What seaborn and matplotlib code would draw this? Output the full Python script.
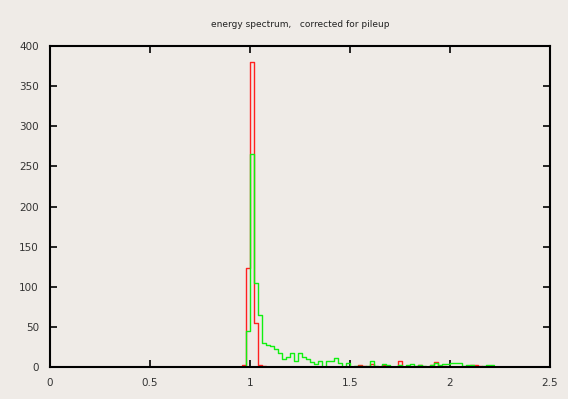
import numpy as np
import pandas as pd
import matplotlib
matplotlib.use('Agg')
import matplotlib.pyplot as plt
import seaborn as sns

# bins of width 0.02 starting at 0.96
bin_start = 0.96
bin_width = 0.02

# counts per bin, before correction (red)
red_counts = [
    3, 123, 380, 55, 3, 1, 0, 0, 0, 0,      # 0.96 - 1.14
    0, 0, 0, 0, 0, 0, 0, 0, 0, 0,           # 1.16 - 1.34
    0, 0, 0, 0, 0, 0, 0, 0, 0, 2,           # 1.36 - 1.54
    1, 0, 4, 0, 0, 3, 0, 0, 0, 7,           # 1.56 - 1.74
    0, 0, 0, 0, 3, 0, 0, 2, 6, 0,           # 1.76 - 1.94
    1, 0, 0, 0, 0, 0, 1, 2, 2, 1,           # 1.96 - 2.14
    0, 0, 0,                                # 2.16 - 2.20
]

# counts per bin, corrected for pileup (green)
green_counts = [
    0, 45, 265, 105, 65, 30, 28, 26, 22, 17,   # 0.96 - 1.14
    10, 12, 17, 8, 17, 13, 10, 6, 4, 7,        # 1.16 - 1.34
    0, 7, 7, 11, 5, 0, 5, 0, 1, 1,             # 1.36 - 1.54
    0, 1, 7, 1, 0, 4, 2, 0, 0, 2,              # 1.56 - 1.74
    0, 3, 4, 1, 3, 1, 0, 3, 5, 3,              # 1.76 - 1.94
    4, 4, 5, 5, 5, 1, 2, 3, 0, 0,              # 1.96 - 2.14
    1, 2, 2,                                   # 2.16 - 2.20
]

nbins = len(green_counts)
bin_end = bin_start + bin_width * nbins
centers = bin_start + bin_width * (np.arange(nbins) + 0.5)
df = pd.DataFrame({'energy': centers, 'raw': red_counts, 'corrected': green_counts})

bg = '#efebe7'
sns.set_theme(style='ticks')
plt.rcParams['font.family'] = ['DejaVu Sans']

fig = plt.figure(figsize=(5.68, 3.99), dpi=100, facecolor=bg)
ax = fig.add_axes([0.088, 0.0802, 0.880, 0.8045])
ax.set_facecolor(bg)

sns.histplot(data=df, x='energy', weights='raw', binwidth=bin_width, binrange=(bin_start, bin_end),
             element='step', fill=False, color='#ff2020', linewidth=1, ax=ax)
sns.histplot(data=df, x='energy', weights='corrected', binwidth=bin_width, binrange=(bin_start, bin_end),
             element='step', fill=False, color='#10f010', linewidth=1, ax=ax)

ax.set_xlim(0, 2.5)
ax.set_ylim(0, 400)
ax.set_xticks(np.arange(0, 2.51, 0.5))
ax.set_xticklabels(['0', '0.5', '1', '1.5', '2', '2.5'])
ax.set_yticks(np.arange(0, 401, 50))
ax.set_xlabel('')
ax.set_ylabel('')
ax.tick_params(direction='in', length=5, width=1.2, colors='black', labelsize=7.5,
               top=True, right=True, pad=8, labelcolor='#333333')
for s in ax.spines.values():
    s.set_visible(True)
    s.set_linewidth(1.5)
    s.set_color('black')

ax.set_title('energy spectrum,   corrected for pileup', fontsize=6.5, pad=14, color='#222222')

fig.savefig('out.png', dpi=100, facecolor=bg)
